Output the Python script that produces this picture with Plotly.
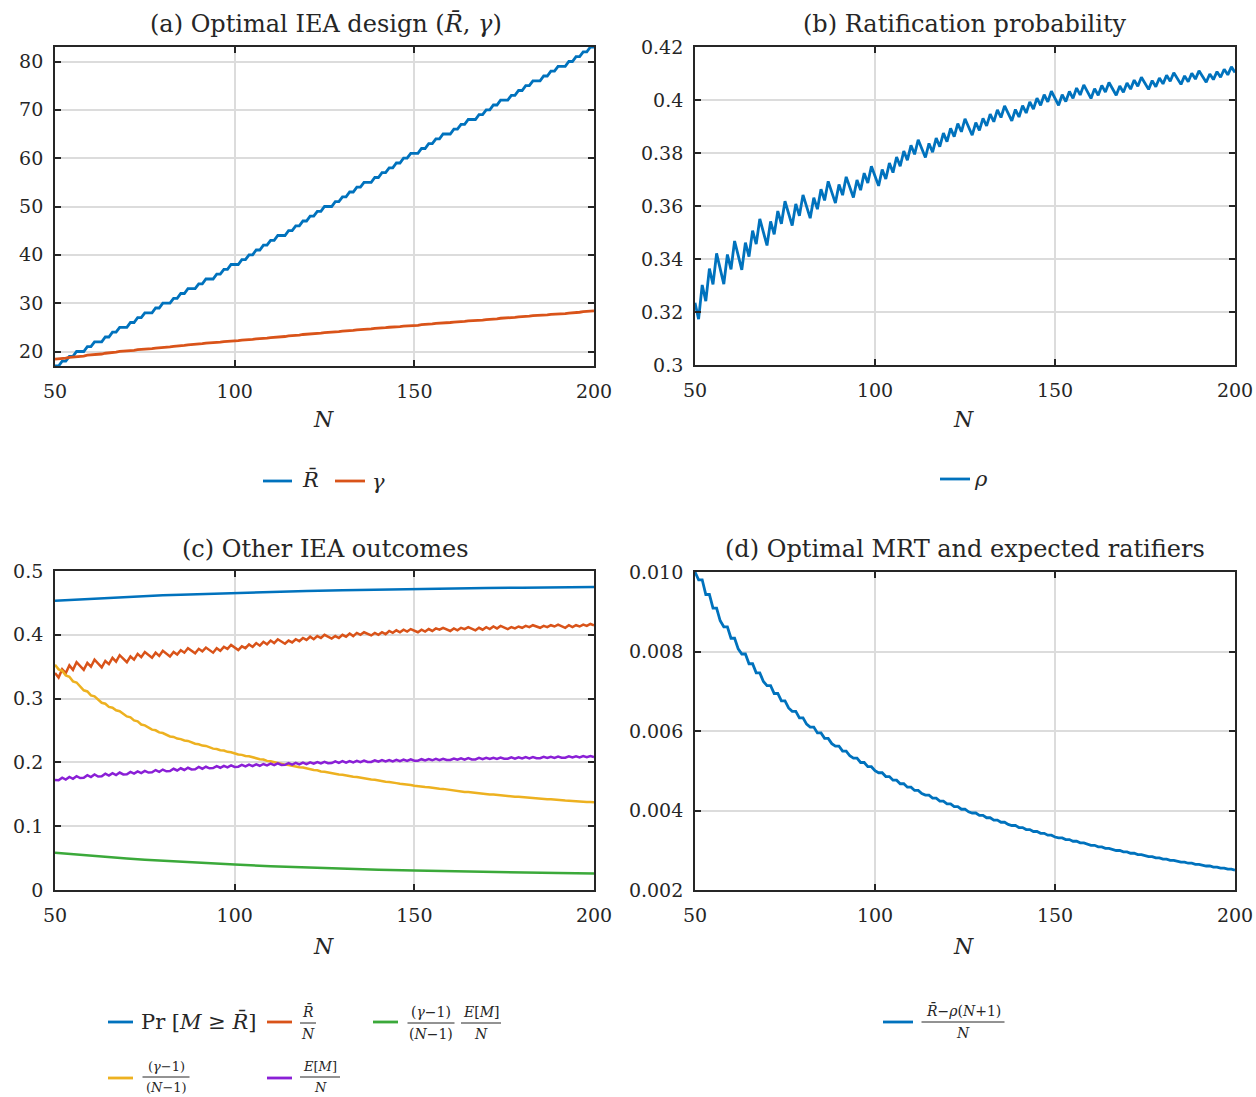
import plotly.graph_objects as go

# ---------------------------------------------------------------- data
N = list(range(50, 201))

# optimal ratification threshold R-bar (integer), N = 50 ... 200
R_bar = [
    17, 17, 18, 18, 19, 19, 20, 20, 20, 21,
    21, 22, 22, 22, 23, 23, 24, 24, 25, 25,
    25, 26, 26, 27, 27, 28, 28, 28, 29, 29,
    30, 30, 30, 31, 31, 32, 32, 33, 33, 33,
    34, 34, 35, 35, 35, 36, 36, 37, 37, 38,
    38, 38, 39, 39, 40, 40, 41, 41, 42, 42,
    43, 43, 44, 44, 44, 45, 45, 46, 46, 47,
    47, 48, 48, 49, 49, 50, 50, 50, 51, 51,
    52, 52, 53, 53, 54, 54, 55, 55, 55, 56,
    56, 57, 57, 58, 58, 59, 59, 60, 60, 61,
    61, 61, 62, 62, 63, 63, 64, 64, 65, 65,
    65, 66, 66, 67, 67, 68, 68, 68, 69, 69,
    70, 70, 71, 71, 72, 72, 72, 73, 73, 74,
    74, 75, 75, 76, 76, 76, 77, 77, 78, 78,
    79, 79, 79, 80, 80, 81, 81, 82, 82, 83,
    83,
]

# optimal gamma
gamma = [
    18.40, 18.43, 18.60, 18.63, 18.80, 18.83, 19.00, 19.03, 19.06, 19.23,
    19.26, 19.42, 19.45, 19.48, 19.64, 19.67, 19.83, 19.86, 20.02, 20.05,
    20.08, 20.21, 20.24, 20.37, 20.40, 20.53, 20.56, 20.59, 20.72, 20.75,
    20.88, 20.91, 20.94, 21.07, 21.10, 21.23, 21.26, 21.39, 21.42, 21.45,
    21.58, 21.61, 21.73, 21.76, 21.79, 21.91, 21.94, 22.06, 22.09, 22.21,
    22.24, 22.26, 22.37, 22.39, 22.50, 22.52, 22.63, 22.65, 22.76, 22.78,
    22.89, 22.92, 23.04, 23.07, 23.10, 23.22, 23.25, 23.37, 23.40, 23.52,
    23.55, 23.66, 23.68, 23.79, 23.81, 23.92, 23.94, 23.96, 24.07, 24.09,
    24.20, 24.22, 24.34, 24.36, 24.48, 24.50, 24.62, 24.64, 24.66, 24.78,
    24.80, 24.90, 24.92, 25.02, 25.04, 25.14, 25.16, 25.26, 25.28, 25.38,
    25.40, 25.42, 25.54, 25.56, 25.68, 25.70, 25.82, 25.84, 25.96, 25.98,
    26.00, 26.10, 26.12, 26.22, 26.24, 26.34, 26.36, 26.38, 26.48, 26.50,
    26.60, 26.62, 26.74, 26.76, 26.88, 26.90, 26.92, 27.04, 27.06, 27.18,
    27.20, 27.30, 27.32, 27.42, 27.44, 27.46, 27.56, 27.58, 27.68, 27.70,
    27.80, 27.82, 27.84, 27.96, 27.98, 28.10, 28.12, 28.24, 28.26, 28.38,
    28.40,
]

# ratification probability rho
rho = [
    0.3235, 0.3173, 0.3302, 0.3241, 0.3364, 0.3304, 0.3421, 0.3362, 0.3305, 0.3417,
    0.3361, 0.3468, 0.3413, 0.3359, 0.3462, 0.3409, 0.3507, 0.3456, 0.3551, 0.3500,
    0.3451, 0.3542, 0.3493, 0.3581, 0.3533, 0.3618, 0.3571, 0.3526, 0.3608, 0.3563,
    0.3642, 0.3598, 0.3554, 0.3631, 0.3588, 0.3663, 0.3621, 0.3693, 0.3652, 0.3611,
    0.3681, 0.3641, 0.3710, 0.3670, 0.3632, 0.3698, 0.3660, 0.3724, 0.3687, 0.3750,
    0.3713, 0.3676, 0.3738, 0.3702, 0.3762, 0.3726, 0.3785, 0.3750, 0.3807, 0.3773,
    0.3829, 0.3795, 0.3850, 0.3816, 0.3783, 0.3836, 0.3803, 0.3856, 0.3824, 0.3875,
    0.3843, 0.3893, 0.3862, 0.3911, 0.3880, 0.3929, 0.3898, 0.3867, 0.3915, 0.3885,
    0.3931, 0.3902, 0.3947, 0.3918, 0.3963, 0.3934, 0.3978, 0.3949, 0.3921, 0.3964,
    0.3936, 0.3979, 0.3951, 0.3993, 0.3966, 0.4007, 0.3980, 0.4020, 0.3993, 0.4033,
    0.4007, 0.3980, 0.4020, 0.3994, 0.4032, 0.4006, 0.4045, 0.4019, 0.4057, 0.4031,
    0.4006, 0.4043, 0.4018, 0.4055, 0.4030, 0.4066, 0.4042, 0.4018, 0.4053, 0.4029,
    0.4064, 0.4041, 0.4075, 0.4052, 0.4086, 0.4063, 0.4040, 0.4073, 0.4050, 0.4083,
    0.4061, 0.4093, 0.4071, 0.4103, 0.4081, 0.4059, 0.4091, 0.4069, 0.4101, 0.4079,
    0.4110, 0.4089, 0.4067, 0.4098, 0.4077, 0.4107, 0.4086, 0.4116, 0.4095, 0.4125,
    0.4104,
]

# R-bar / N
r_share = [
    0.340, 0.333, 0.346, 0.340, 0.352, 0.345, 0.357, 0.351, 0.345, 0.356,
    0.350, 0.361, 0.355, 0.349, 0.359, 0.354, 0.364, 0.358, 0.368, 0.362,
    0.357, 0.366, 0.361, 0.370, 0.365, 0.373, 0.368, 0.364, 0.372, 0.367,
    0.375, 0.370, 0.366, 0.373, 0.369, 0.376, 0.372, 0.379, 0.375, 0.371,
    0.378, 0.374, 0.380, 0.376, 0.372, 0.379, 0.375, 0.381, 0.378, 0.384,
    0.380, 0.376, 0.382, 0.379, 0.385, 0.381, 0.387, 0.383, 0.389, 0.385,
    0.391, 0.387, 0.393, 0.389, 0.386, 0.391, 0.388, 0.393, 0.390, 0.395,
    0.392, 0.397, 0.393, 0.398, 0.395, 0.400, 0.397, 0.394, 0.398, 0.395,
    0.400, 0.397, 0.402, 0.398, 0.403, 0.400, 0.404, 0.401, 0.399, 0.403,
    0.400, 0.404, 0.401, 0.406, 0.403, 0.407, 0.404, 0.408, 0.405, 0.409,
    0.407, 0.404, 0.408, 0.405, 0.409, 0.406, 0.410, 0.408, 0.411, 0.409,
    0.406, 0.410, 0.407, 0.411, 0.409, 0.412, 0.410, 0.407, 0.411, 0.408,
    0.412, 0.409, 0.413, 0.410, 0.414, 0.411, 0.409, 0.412, 0.410, 0.413,
    0.411, 0.414, 0.412, 0.415, 0.413, 0.411, 0.414, 0.412, 0.415, 0.413,
    0.416, 0.414, 0.411, 0.415, 0.412, 0.415, 0.413, 0.416, 0.414, 0.417,
    0.415,
]

# (gamma - 1) / (N - 1)
gamma_share = [
    0.3530, 0.3458, 0.3436, 0.3364, 0.3342, 0.3270, 0.3252, 0.3191, 0.3130, 0.3112,
    0.3050, 0.3035, 0.2985, 0.2935, 0.2920, 0.2870, 0.2858, 0.2816, 0.2803, 0.2762,
    0.2720, 0.2706, 0.2657, 0.2643, 0.2594, 0.2580, 0.2547, 0.2513, 0.2503, 0.2470,
    0.2460, 0.2434, 0.2407, 0.2399, 0.2373, 0.2365, 0.2343, 0.2336, 0.2314, 0.2292,
    0.2285, 0.2264, 0.2258, 0.2237, 0.2216, 0.2210, 0.2191, 0.2185, 0.2165, 0.2160,
    0.2140, 0.2123, 0.2118, 0.2100, 0.2095, 0.2078, 0.2072, 0.2051, 0.2045, 0.2024,
    0.2018, 0.2002, 0.1997, 0.1981, 0.1965, 0.1960, 0.1945, 0.1940, 0.1925, 0.1920,
    0.1905, 0.1899, 0.1881, 0.1876, 0.1857, 0.1852, 0.1839, 0.1826, 0.1822, 0.1809,
    0.1805, 0.1792, 0.1789, 0.1776, 0.1772, 0.1760, 0.1756, 0.1744, 0.1732, 0.1728,
    0.1716, 0.1712, 0.1698, 0.1693, 0.1679, 0.1675, 0.1664, 0.1661, 0.1650, 0.1646,
    0.1635, 0.1625, 0.1622, 0.1613, 0.1610, 0.1600, 0.1597, 0.1588, 0.1585, 0.1576,
    0.1567, 0.1564, 0.1553, 0.1549, 0.1538, 0.1535, 0.1527, 0.1518, 0.1516, 0.1507,
    0.1505, 0.1497, 0.1495, 0.1488, 0.1485, 0.1478, 0.1472, 0.1470, 0.1463, 0.1461,
    0.1455, 0.1453, 0.1447, 0.1445, 0.1438, 0.1432, 0.1430, 0.1423, 0.1421, 0.1414,
    0.1412, 0.1407, 0.1401, 0.1400, 0.1394, 0.1393, 0.1388, 0.1386, 0.1381, 0.1380,
    0.1375,
]

# E[M] / N
exp_share = [
    0.1725, 0.1721, 0.1761, 0.1732, 0.1772, 0.1743, 0.1783, 0.1754, 0.1759, 0.1800,
    0.1770, 0.1810, 0.1779, 0.1784, 0.1823, 0.1793, 0.1832, 0.1802, 0.1841, 0.1811,
    0.1815, 0.1852, 0.1825, 0.1860, 0.1833, 0.1868, 0.1841, 0.1845, 0.1880, 0.1853,
    0.1888, 0.1861, 0.1865, 0.1900, 0.1873, 0.1908, 0.1881, 0.1916, 0.1889, 0.1893,
    0.1928, 0.1901, 0.1932, 0.1907, 0.1910, 0.1941, 0.1916, 0.1947, 0.1922, 0.1953,
    0.1928, 0.1932, 0.1960, 0.1937, 0.1965, 0.1942, 0.1970, 0.1947, 0.1975, 0.1952,
    0.1980, 0.1956, 0.1984, 0.1960, 0.1962, 0.1990, 0.1966, 0.1994, 0.1970, 0.1998,
    0.1974, 0.2001, 0.1979, 0.2005, 0.1983, 0.2009, 0.1987, 0.1989, 0.2015, 0.1993,
    0.2019, 0.1997, 0.2022, 0.2000, 0.2025, 0.2003, 0.2028, 0.2006, 0.2007, 0.2033,
    0.2010, 0.2035, 0.2014, 0.2038, 0.2017, 0.2041, 0.2020, 0.2044, 0.2023, 0.2047,
    0.2026, 0.2027, 0.2050, 0.2030, 0.2052, 0.2033, 0.2055, 0.2035, 0.2057, 0.2038,
    0.2039, 0.2061, 0.2041, 0.2064, 0.2044, 0.2066, 0.2046, 0.2047, 0.2070, 0.2050,
    0.2072, 0.2053, 0.2073, 0.2055, 0.2075, 0.2057, 0.2058, 0.2078, 0.2060, 0.2080,
    0.2062, 0.2082, 0.2064, 0.2084, 0.2066, 0.2067, 0.2087, 0.2069, 0.2089, 0.2071,
    0.2091, 0.2073, 0.2074, 0.2094, 0.2076, 0.2096, 0.2078, 0.2098, 0.2080, 0.2100,
    0.2082,
]

# optimal MRT: (R-bar - rho (N+1)) / N
mrt = [
    0.01000, 0.009804, 0.009804, 0.009434, 0.009434, 0.009091, 0.009091, 0.008772, 0.008621, 0.008621,
    0.008333, 0.008333, 0.008065, 0.007937, 0.007937, 0.007692, 0.007692, 0.007463, 0.007463, 0.007246,
    0.007143, 0.007143, 0.006944, 0.006944, 0.006757, 0.006757, 0.006579, 0.006494, 0.006494, 0.006329,
    0.006329, 0.006173, 0.006098, 0.006098, 0.005952, 0.005952, 0.005814, 0.005814, 0.005682, 0.005618,
    0.005618, 0.005495, 0.005495, 0.005376, 0.005319, 0.005319, 0.005208, 0.005208, 0.005102, 0.005102,
    0.005000, 0.004950, 0.004950, 0.004854, 0.004854, 0.004762, 0.004762, 0.004673, 0.004673, 0.004587,
    0.004587, 0.004505, 0.004505, 0.004425, 0.004386, 0.004386, 0.004310, 0.004310, 0.004237, 0.004237,
    0.004167, 0.004167, 0.004098, 0.004098, 0.004032, 0.004032, 0.003968, 0.003937, 0.003937, 0.003876,
    0.003876, 0.003817, 0.003817, 0.003759, 0.003759, 0.003704, 0.003704, 0.003650, 0.003623, 0.003623,
    0.003571, 0.003571, 0.003521, 0.003521, 0.003472, 0.003472, 0.003425, 0.003425, 0.003378, 0.003378,
    0.003333, 0.003311, 0.003311, 0.003268, 0.003268, 0.003226, 0.003226, 0.003185, 0.003185, 0.003145,
    0.003125, 0.003125, 0.003086, 0.003086, 0.003049, 0.003049, 0.003012, 0.002994, 0.002994, 0.002959,
    0.002959, 0.002924, 0.002924, 0.002890, 0.002890, 0.002857, 0.002841, 0.002841, 0.002809, 0.002809,
    0.002778, 0.002778, 0.002747, 0.002747, 0.002717, 0.002703, 0.002703, 0.002674, 0.002674, 0.002646,
    0.002646, 0.002618, 0.002604, 0.002604, 0.002577, 0.002577, 0.002551, 0.002551, 0.002525, 0.002525,
    0.002500,
]

# smooth outcomes on a coarser grid
N_coarse = [50, 55, 60, 65, 70, 75, 80, 85, 90, 95, 100,
            110, 120, 130, 140, 150, 160, 170, 180, 190, 200]
pr_success = [0.4535, 0.4550, 0.4568, 0.4582, 0.4595, 0.4607, 0.4618, 0.4628, 0.4638, 0.4647, 0.4656,
              0.4672, 0.4686, 0.4698, 0.4709, 0.4718, 0.4726, 0.4733, 0.4739, 0.4744, 0.4748]
burden = [0.0585, 0.0560, 0.0536, 0.0513, 0.0493, 0.0474, 0.0457, 0.0441, 0.0426, 0.0412, 0.0398,
          0.0374, 0.0353, 0.0335, 0.0319, 0.0305, 0.0293, 0.0283, 0.0274, 0.0266, 0.0259]

# tick labels
x_ticks = [50, 100, 150, 200]
a_ticks = [20, 30, 40, 50, 60, 70, 80]
b_ticks = [0.30, 0.32, 0.34, 0.36, 0.38, 0.40, 0.42]
b_text = ["0.3", "0.32", "0.34", "0.36", "0.38", "0.4", "0.42"]
c_ticks = [0, 0.1, 0.2, 0.3, 0.4, 0.5]
c_text = ["0", "0.1", "0.2", "0.3", "0.4", "0.5"]
d_ticks = [0.002, 0.004, 0.006, 0.008, 0.010]
d_text = ["0.002", "0.004", "0.006", "0.008", "0.010"]

# ---------------------------------------------------------------- style
W, H = 1256, 1097
FONT = "DejaVu Serif"
INK = "#262626"
BLUE, ORANGE, YELLOW = "#0072BD", "#D95319", "#EDB120"
PURPLE, GREEN = "#8A1FD6", "#3BA93A"
RB = "<i>R\u0304</i>"


def px(x):
    return x / W


def py(y):
    return 1 - y / H


boxes = {  # left, right, top, bottom in pixels
    "a": (55, 594, 47, 366),
    "b": (695, 1235, 47, 365),
    "c": (55, 594, 571, 890),
    "d": (695, 1235, 572, 890),
}

fig = go.Figure()


def axis_common():
    return dict(
        showline=True, linecolor=INK, linewidth=1.8, mirror="ticks",
        ticks="inside", ticklen=6, tickwidth=1.8, tickcolor=INK,
        showgrid=True, gridcolor="#dcdcdc", gridwidth=1.6, zeroline=False,
        automargin=False,
        tickfont=dict(family=FONT, size=19, color=INK),
    )


panels = [
    ("a", "x", "y", [17, 83], a_ticks, [str(v) for v in a_ticks]),
    ("b", "x2", "y2", [0.3, 0.42], b_ticks, b_text),
    ("c", "x3", "y3", [0, 0.5], c_ticks, c_text),
    ("d", "x4", "y4", [0.002, 0.010], d_ticks, d_text),
]
layout_axes = {}
for key, xa, ya, yr, yt, ytt in panels:
    l, r, t, b = boxes[key]
    xname = "xaxis" + xa[1:]
    yname = "yaxis" + ya[1:]
    layout_axes[xname] = dict(
        axis_common(), domain=[px(l), px(r)], anchor=ya, range=[50, 200],
        tickvals=x_ticks, ticktext=[str(v) for v in x_ticks], ticklabelstandoff=7,
    )
    layout_axes[yname] = dict(
        axis_common(), domain=[py(b), py(t)], anchor=xa, range=yr,
        tickvals=yt, ticktext=ytt, ticklabelstandoff=6,
    )
fig.update_layout(**layout_axes)


def line(x, y, color, xa, ya, width):
    fig.add_trace(go.Scatter(x=x, y=y, mode="lines", xaxis=xa, yaxis=ya,
                             line=dict(color=color, width=width), showlegend=False,
                             hoverinfo="skip"))


# (a)
line(N, R_bar, BLUE, "x", "y", 2.8)
line(N, gamma, ORANGE, "x", "y", 2.8)
# (b)
line(N, rho, BLUE, "x2", "y2", 2.8)
# (c)
line(N_coarse, pr_success, BLUE, "x3", "y3", 2.5)
line(N, r_share, ORANGE, "x3", "y3", 2.5)
line(N_coarse, burden, GREEN, "x3", "y3", 2.5)
line(N, gamma_share, YELLOW, "x3", "y3", 2.5)
line(N, exp_share, PURPLE, "x3", "y3", 2.5)
# (d)
line(N, mrt, BLUE, "x4", "y4", 2.8)

annotations = []
shapes = []


def text(x, y, s, size=24, xanchor="center", yanchor="middle"):
    annotations.append(dict(x=px(x), y=py(y), xref="paper", yref="paper", text=s,
                            showarrow=False, xanchor=xanchor, yanchor=yanchor,
                            font=dict(family=FONT, size=size, color=INK)))


def seg(x0, x1, y, color, width=2.8):
    shapes.append(dict(type="line", xref="paper", yref="paper",
                       x0=px(x0), x1=px(x1), y0=py(y), y1=py(y),
                       line=dict(color=color, width=width)))


def frac(xc, ybar, num, den, w, size=14):
    seg(xc - w / 2, xc + w / 2, ybar, INK, 1.0)
    annotations.append(dict(x=px(xc), y=py(ybar - 1), xref="paper", yref="paper", text=num,
                            showarrow=False, xanchor="center", yanchor="bottom",
                            font=dict(family=FONT, size=size, color=INK)))
    annotations.append(dict(x=px(xc), y=py(ybar + 1), xref="paper", yref="paper", text=den,
                            showarrow=False, xanchor="center", yanchor="top",
                            font=dict(family=FONT, size=size, color=INK)))


# titles
text(326, 24, "(a) Optimal IEA design (" + RB + ", <i>γ</i>)")
text(965, 24, "(b) Ratification probability")
text(325, 549, "(c) Other IEA outcomes")
text(965, 549, "(d) Optimal MRT and expected ratifiers")

# axis labels
for xc, yc in [(323, 420), (963, 420), (323, 946), (963, 946)]:
    text(xc, yc, "<i>N</i>", size=22)

# legend (a)
seg(263, 292, 481, BLUE)
text(310, 480, RB, size=21)
seg(335, 365, 481, ORANGE)
text(378, 482, "<i>γ</i>", size=21)

# legend (b)
seg(940, 970, 479, BLUE)
text(981, 479, "<i>ρ</i>", size=21)

# legend (c)
seg(108, 133, 1022, BLUE)
text(139, 1021, "Pr [<i>M</i> ≥ " + RB + "]", size=21, xanchor="left")
seg(267, 292, 1022, ORANGE)
frac(308, 1023, RB, "<i>N</i>", 16)
seg(373, 398, 1022, GREEN)
frac(431, 1023, "(<i>γ</i>−1)", "(<i>N</i>−1)", 47)
frac(481, 1023, "<i>E</i>[<i>M</i>]", "<i>N</i>", 40)
seg(108, 133, 1078, YELLOW)
frac(166, 1077, "(<i>γ</i>−1)", "(<i>N</i>−1)", 47, size=13)
seg(267, 292, 1078, PURPLE)
frac(320, 1077, "<i>E</i>[<i>M</i>]", "<i>N</i>", 40, size=13)

# legend (d)
seg(883, 913, 1022, BLUE)
frac(963, 1022, RB + "−<i>ρ</i>(<i>N</i>+1)", "<i>N</i>", 83)

fig.update_layout(
    width=W, height=H,
    margin=dict(l=0, r=0, t=0, b=0, pad=0, autoexpand=False),
    paper_bgcolor="white", plot_bgcolor="white",
    annotations=annotations, shapes=shapes,
    showlegend=False,
)

fig.write_html(
    "out.html",
    config={"responsive": False, "displayModeBar": False},
    post_script="document.body.style.margin='0px';document.body.style.overflow='hidden';",
)
